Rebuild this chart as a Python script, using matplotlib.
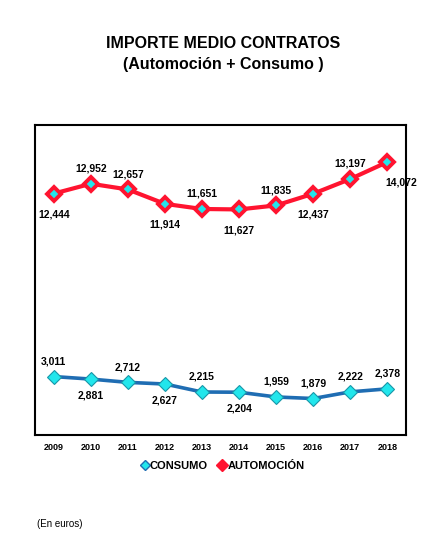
import matplotlib.pyplot as plt
from matplotlib.lines import Line2D
import numpy as np

plt.rcParams['font.family'] = ['Liberation Sans', 'DejaVu Sans']

years = ['2009', '2010', '2011', '2012', '2013', '2014', '2015', '2016', '2017', '2018']
automocion = [12444, 12952, 12657, 11914, 11651, 11627, 11835, 12437, 13197, 14072]
consumo = [3011, 2881, 2712, 2627, 2215, 2204, 1959, 1879, 2222, 2378]

# label above (+1) or below (-1) each point
auto_pos = [-1, 1, 1, -1, 1, -1, 1, -1, 1, -1]
cons_pos = [1, -1, 1, -1, 1, -1, 1, 1, 1, 1]

RED = '#ff1430'
BLUE = '#1f6db3'
CYAN = '#22e6ec'

fig = plt.figure(figsize=(4.46, 5.49), dpi=100)
ax = fig.add_axes([0.079, 0.2077, 0.831, 0.5653])

x = np.arange(len(years)) + 0.5

ax.plot(x, automocion, color=RED, lw=3, marker='D', ms=7.5,
        mfc=CYAN, mec=RED, mew=2.8, zorder=3)
ax.plot(x, consumo, color=BLUE, lw=2.6, marker='D', ms=7,
        mfc=CYAN, mec='#1896a8', mew=0.8, zorder=3)

for i, (xi, v, p) in enumerate(zip(x, automocion, auto_pos)):
    off = 11 if p > 0 else -15
    dx = 10 if i == len(years) - 1 else 0
    ax.annotate('{:,}'.format(v), (xi, v), xytext=(dx, off), textcoords='offset points',
                ha='center', va='center', fontsize=7.5, fontweight='bold',
                annotation_clip=False)
for xi, v, p in zip(x, consumo, cons_pos):
    off = 11 if p > 0 else -12
    ax.annotate('{:,}'.format(v), (xi, v), xytext=(0, off), textcoords='offset points',
                ha='center', va='center', fontsize=7.5, fontweight='bold',
                annotation_clip=False)

ax.set_xlim(0, len(years))
ax.set_ylim(0, 16000)
ax.set_xticks(x)
ax.set_xticklabels(years, fontsize=6.5, fontweight='bold')
ax.tick_params(axis='x', length=0, pad=6)
ax.set_yticks([])
for s in ax.spines.values():
    s.set_linewidth(1.5)
    s.set_color('black')

handles = [
    Line2D([], [], ls='none', marker='D', ms=5, mfc=CYAN, mec=BLUE, mew=1),
    Line2D([], [], ls='none', marker='D', ms=6.5, mfc=RED, mec=RED),
]
fig.legend(handles, ['CONSUMO', 'AUTOMOCIÓN'], loc='center', bbox_to_anchor=(0.5, 1 - 466 / 549),
           ncol=2, frameon=False, prop={'size': 8, 'weight': 'bold'},
           handlelength=0.6, handletextpad=0.15, columnspacing=1.0)

fig.text(0.5, 1 - 44 / 549, 'IMPORTE MEDIO CONTRATOS', ha='center', va='center',
         fontsize=11.5, fontweight='bold')
fig.text(0.5, 1 - 65 / 549, '(Automoción + Consumo )', ha='center', va='center',
         fontsize=11.5, fontweight='bold')
fig.text(37 / 446, 1 - 524 / 549, '(En euros)', ha='left', va='center', fontsize=7)

fig.savefig('out.png', dpi=100)
